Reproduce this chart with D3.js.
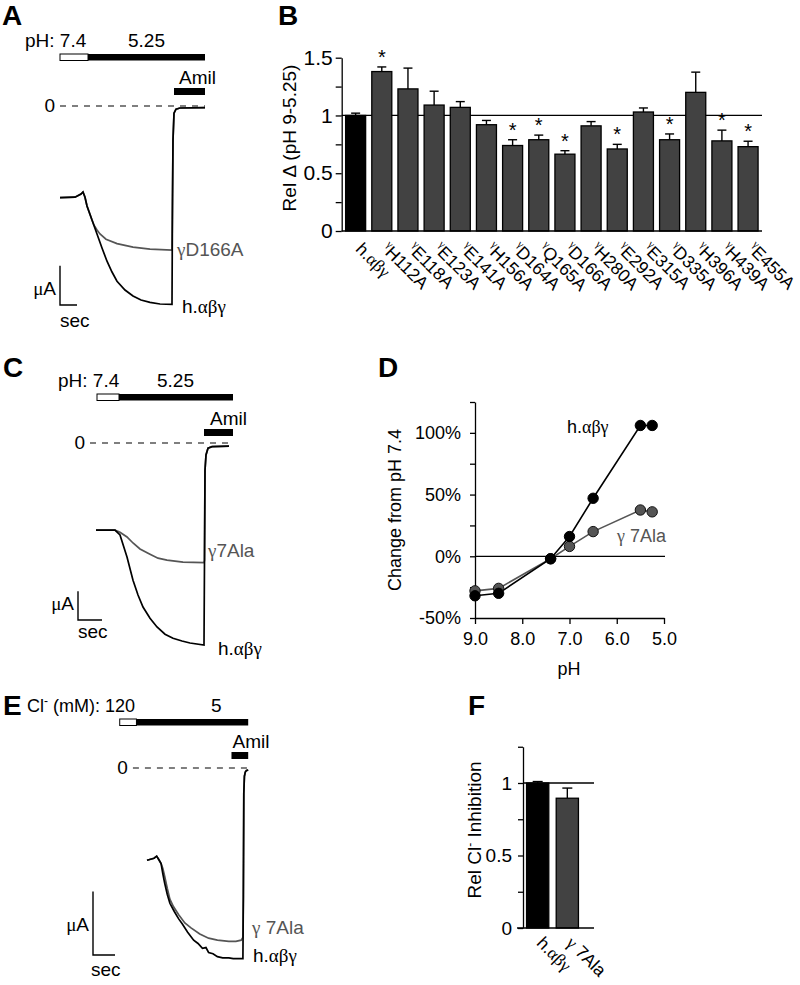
<!DOCTYPE html>
<html>
<head>
<meta charset="utf-8">
<script src="https://cdn.jsdelivr.net/npm/d3@7"></script>
<style>
  body { margin: 0; background: #fff; }
  svg text { font-family: "Liberation Sans", Arial, Helvetica, sans-serif; }
</style>
</head>
<body>
<svg id="fig" width="800" height="985"></svg>
<script>
// ---------------- data ----------------
// panel B: relative pH response (pH 9 -> 5.25) for each gamma mutant
const mutants = ["h.αβγ", "H112A", "E118A", "E123A", "E141A", "H156A", "D164A", "Q165A",
                 "D166A", "H280A", "E292A", "E315A", "D335A", "H396A", "H439A", "E455A"];
const relDelta = [1.00, 1.38, 1.23, 1.09, 1.07, 0.92, 0.74, 0.79, 0.665, 0.91, 0.71, 1.03, 0.79, 1.20, 0.78, 0.73];
const relDeltaSem = [0.02, 0.04, 0.18, 0.12, 0.05, 0.037, 0.05, 0.04, 0.03, 0.037, 0.04, 0.035, 0.05, 0.175, 0.093, 0.047];
const relDeltaSig = [false, true, false, false, false, false, true, true, true, false, true, false, true, false, true, true];

// panel D: change in current from pH 7.4 (%)
const pHs = [9.0, 8.5, 7.4, 7.0, 6.5, 5.5, 5.25];
const wtChange = [-32, -30, -2, 16, 47, 106, 106];
const ala7Change = [-28, -26, -2, 8, 20, 37.5, 36];

// panel F: relative Cl- inhibition
const fLabels = ["wt", "7Ala"];
const fValues = [1.0, 0.895];
const fSem = [0.01, 0.07];

// recordings: [time (s), current (uA)], zero = amiloride-insensitive level
const traceA_wt = [[0,-2.29],[15,-2.28],[21,-2.2],[23,-2.15],[25,-2.28],[27,-2.5],[32,-2.85],[37,-3.2],[42,-3.55],
  [47,-3.88],[52,-4.15],[57,-4.38],[65,-4.6],[73,-4.75],[81,-4.85],[90,-4.91],[100,-4.95],[112,-4.96],
  [112.5,-2.35],[113,-0.85],[114,-0.18],[116,-0.08],[120,-0.05],[145,-0.04]];
const traceA_mut = [[0,-2.29],[15,-2.28],[21,-2.2],[23,-2.15],[25,-2.28],[27,-2.5],[32,-2.85],[34,-2.98],[37,-3.1],
  [40,-3.2],[46,-3.33],[57,-3.44],[73,-3.53],[90,-3.58],[112,-3.6],
  [112.5,-2.35],[113,-0.85],[114,-0.18],[116,-0.08],[120,-0.05],[145,-0.04]];

const traceC_wt = [[0,-2.18],[19,-2.18],[24,-2.3],[31,-2.85],[37,-3.43],[42,-3.8],[47,-4.1],[54,-4.38],[61,-4.6],
  [69,-4.78],[77,-4.88],[86,-4.95],[94,-5.0],[108,-5.05],
  [108.5,-2.93],[109,-0.68],[110,-0.3],[112,-0.13],[116,-0.09],[133,-0.08]];
const traceC_mut = [[0,-2.18],[19,-2.18],[24,-2.23],[31,-2.35],[37,-2.5],[44,-2.65],[54,-2.78],[62,-2.88],[71,-2.93],
  [87,-2.98],[108,-2.99],
  [108.5,-2.93],[109,-0.68],[110,-0.3],[112,-0.13],[116,-0.09],[133,-0.08]];

const traceE_wt = [[0,-2.25],[8,-2.2],[11,-2.15],[13,-2.22],[16,-2.33],[18,-2.58],[20,-2.8],[23,-3.08],[26,-3.3],
  [31,-3.5],[36,-3.68],[40,-3.8],[46,-4.0],[53,-4.2],[58,-4.28],[63,-4.4],[67,-4.38],[70,-4.5],[75,-4.53],
  [80,-4.6],[86,-4.63],[93,-4.63],[98,-4.65],[109,-4.65],
  [109.5,-3.13],[110,-0.63],[110.7,-0.2],[111.7,-0.1],[113,-0.06],[115,-0.05]];
const traceE_mut = [[0,-2.25],[8,-2.2],[11,-2.15],[13,-2.22],[16,-2.33],[18,-2.45],[20,-2.63],[23,-2.93],[26,-3.2],
  [30,-3.38],[36,-3.58],[43,-3.78],[50,-3.9],[60,-4.05],[70,-4.15],[80,-4.2],[93,-4.23],[101,-4.23],
  [107,-4.2],[109,-4.13],
  [109.5,-3.13],[110,-0.63],[110.7,-0.2],[111.7,-0.1],[113,-0.06],[115,-0.05]];

// solution protocol, seconds: [control start, test start, end, amiloride start, zero-line start]
const protoA = [0, 28, 145, 114, 0];
const protoC = [1, 23, 137, 108, -6];
const protoE = [-31, -12, 115, 96, -16];

// scale bars: [seconds, uA]
const scaleBarA = [17, 0.98];
const scaleBarC = [24, 0.72];
const scaleBarE = [25, 1.55];

// ---------------- helpers ----------------
const svg = d3.select("#fig");
const GREY = "#555";
const BAR_GREY = "#424242";
const SERIF = '"Liberation Serif", "DejaVu Serif", serif';

// text made of parts; greek parts in the serif face like the original Symbol font
function rich(g, x, y, parts, opts = {}) {
  const t = g.append("text")
    .attr("x", x).attr("y", y)
    .attr("font-size", opts.size || 19)
    .attr("fill", opts.fill || "#000");
  if (opts.anchor) t.attr("text-anchor", opts.anchor);
  if (opts.transform) t.attr("transform", opts.transform);
  parts.forEach(p => {
    const s = t.append("tspan").text(p.t);
    if (p.greek) s.attr("font-family", SERIF);
    if (p.size) s.attr("font-size", p.size);
    if (p.dy) s.attr("dy", p.dy);
  });
  return t;
}

const hABG = [{ t: "h." }, { t: "αβγ", greek: true }];

function panelLetter(letter, x, y) {
  svg.append("text").attr("x", x).attr("y", y)
    .attr("font-size", 28).attr("font-weight", "bold")
    .text(letter);
}

// ---------------- recordings (A, C, E) ----------------
function recording(cfg) {
  const g = svg.append("g");
  const P = cfg.proto;
  const k = cfg.pxPerSec || 1, m = cfg.pxPerUA || 40;
  const x = d3.scaleLinear().domain([0, 100]).range([cfg.x0, cfg.x0 + 100 * k]);
  const y = d3.scaleLinear().domain([0, -5]).range([cfg.y0, cfg.y0 + 5 * m]);

  // solution bar
  g.append("rect")
    .attr("x", x(P[0])).attr("y", cfg.barY)
    .attr("width", x(P[1]) - x(P[0])).attr("height", 6.5)
    .attr("fill", "#fff").attr("stroke", "#000").attr("stroke-width", 1);
  g.append("rect")
    .attr("x", x(P[1])).attr("y", cfg.barY)
    .attr("width", x(P[2]) - x(P[1])).attr("height", 6.5)
    .attr("fill", "#000");
  rich(g, cfg.solLabel[0], cfg.barY - 7, cfg.solLabel[1], { size: cfg.solSize });
  rich(g, cfg.testLabel[0], cfg.barY - 7, [{ t: cfg.testLabel[1] }]);

  // amiloride bar
  g.append("rect")
    .attr("x", x(P[3])).attr("y", cfg.amilY)
    .attr("width", x(P[2]) - x(P[3])).attr("height", 7)
    .attr("fill", "#000");
  rich(g, x(P[3]) + cfg.amilDx, cfg.amilY - 4, [{ t: "Amil" }]);

  // zero current
  g.append("line")
    .attr("x1", x(P[4])).attr("x2", x(P[2]))
    .attr("y1", y(0)).attr("y2", y(0))
    .attr("stroke", "#000").attr("stroke-width", 1.2)
    .attr("stroke-dasharray", "6,6");
  rich(g, x(P[4]) - 5, y(0) + 6, [{ t: "0" }], { anchor: "end" });

  const line = d3.line().x(d => x(d[0])).y(d => y(d[1]));
  g.append("path").datum(cfg.mut).attr("d", line)
    .attr("fill", "none").attr("stroke", GREY).attr("stroke-width", 1.7);
  g.append("path").datum(cfg.wt).attr("d", line)
    .attr("fill", "none").attr("stroke", "#000").attr("stroke-width", 1.7);

  // scale bar
  const sb = cfg.scaleBar;
  const sbBottom = cfg.sbBottom;
  const x0 = cfg.sbX;
  g.append("path")
    .attr("d", `M${x0},${sbBottom - (y(-sb[1]) - y(0))}V${sbBottom}H${x0 + (x(sb[0]) - x(0))}`)
    .attr("fill", "none").attr("stroke", "#000").attr("stroke-width", 1.4);
  rich(g, x0 - 4, sbBottom - cfg.uaUp, [{ t: "μ", greek: true }, { t: "A" }], { anchor: "end" });
  rich(g, x0 + cfg.secDx, sbBottom + cfg.secDy, [{ t: "sec" }]);

  // trace labels
  rich(g, cfg.mutLabel[0], cfg.mutLabel[1], cfg.mutLabelParts, { fill: GREY });
  rich(g, cfg.wtLabel[0], cfg.wtLabel[1], hABG);
}

recording({
  x0: 60, y0: 106, proto: protoA, barY: 54, amilY: 88, amilDx: 5,
  solLabel: [25, [{ t: "pH: 7.4" }]], testLabel: [128, "5.25"],
  wt: traceA_wt, mut: traceA_mut, scaleBar: scaleBarA, sbX: 60, sbBottom: 305, uaUp: 10, secDx: 0, secDy: 22,
  mutLabel: [177, 256], mutLabelParts: [{ t: "γ", greek: true }, { t: "D166A" }],
  wtLabel: [182, 313]
});
recording({
  x0: 96, y0: 443, proto: protoC, barY: 394, amilY: 429, amilDx: 6,
  solLabel: [58, [{ t: "pH: 7.4" }]], testLabel: [157, "5.25"],
  wt: traceC_wt, mut: traceC_mut, scaleBar: scaleBarC, sbX: 78, sbBottom: 620, uaUp: 10, secDx: 0, secDy: 18,
  mutLabel: [208, 557], mutLabelParts: [{ t: "γ", greek: true }, { t: "7Ala" }],
  wtLabel: [218, 655]
});
recording({
  x0: 147, y0: 768, pxPerSec: 0.88, pxPerUA: 41, proto: protoE, barY: 719, amilY: 752, amilDx: 1,
  solLabel: [27, [{ t: "Cl" }, { t: "-", size: 12, dy: -7 }, { t: " (mM): 120", dy: 7 }]], solSize: 18, testLabel: [211, "5"],
  wt: traceE_wt, mut: traceE_mut, scaleBar: scaleBarE, sbX: 93, sbBottom: 955, uaUp: 24, secDx: -2, secDy: 21,
  mutLabel: [252, 934], mutLabelParts: [{ t: "γ", greek: true }, { t: " 7Ala" }],
  wtLabel: [253, 962]
});

panelLetter("A", 2, 25);
panelLetter("C", 3, 377);
panelLetter("E", 3, 715);

// ---------------- panel B ----------------
(function () {
  const g = svg.append("g");
  const x = d3.scaleBand().domain(mutants).range([341.7, 762]).paddingInner(0.235).paddingOuter(0.15);
  const y = d3.scaleLinear().domain([0, 1.5]).range([231, 57.7]);

  g.append("g").attr("transform", "translate(341.7,0)")
    .call(d3.axisLeft(y).tickValues([0, 0.25, 0.5, 0.75, 1, 1.25, 1.5]).tickSize(6).tickSizeOuter(0).tickPadding(3)
      .tickFormat(d => d * 2 === Math.round(d * 2) ? d3.format("~g")(d) : ""))
    .call(a => a.selectAll("text").attr("font-size", 21).attr("font-family", null))
    .call(a => a.selectAll("line,path").attr("stroke-width", 1.3));

  g.append("line").attr("x1", 341.7).attr("x2", 762).attr("y1", y(1)).attr("y2", y(1))
    .attr("stroke", "#000").attr("stroke-width", 1.3);

  const bars = g.selectAll(".bar").data(mutants).enter();
  bars.append("line")
    .attr("x1", d => x(d) + x.bandwidth() / 2).attr("x2", d => x(d) + x.bandwidth() / 2)
    .attr("y1", (d, i) => y(relDelta[i])).attr("y2", (d, i) => y(relDelta[i] + relDeltaSem[i]))
    .attr("stroke", "#000").attr("stroke-width", 1.4);
  bars.append("line")
    .attr("x1", d => x(d) + x.bandwidth() / 2 - 4.5).attr("x2", d => x(d) + x.bandwidth() / 2 + 4.5)
    .attr("y1", (d, i) => y(relDelta[i] + relDeltaSem[i])).attr("y2", (d, i) => y(relDelta[i] + relDeltaSem[i]))
    .attr("stroke", "#000").attr("stroke-width", 1.4);
  bars.append("rect")
    .attr("x", d => x(d)).attr("width", x.bandwidth())
    .attr("y", (d, i) => y(relDelta[i])).attr("height", (d, i) => y(0) - y(relDelta[i]))
    .attr("fill", (d, i) => i === 0 ? "#000" : BAR_GREY)
    .attr("stroke", "#000").attr("stroke-width", 1.3);
  bars.filter((d, i) => relDeltaSig[i]).append("text")
    .attr("x", d => x(d) + x.bandwidth() / 2)
    .attr("y", d => y(relDelta[mutants.indexOf(d)] + relDeltaSem[mutants.indexOf(d)]) - 3)
    .attr("text-anchor", "middle").attr("font-size", 20).text("*");

  g.append("line").attr("x1", 341.7).attr("x2", 762).attr("y1", y(0)).attr("y2", y(0))
    .attr("stroke", "#000").attr("stroke-width", 1.4);

  mutants.forEach((m, i) => {
    const cx = x(m) + x.bandwidth() / 2 - 1;
    const parts = i === 0 ? hABG
      : [{ t: "γ", greek: true, size: 11, dy: -7 }, { t: m, size: 17.5, dy: 7 }];
    rich(g, cx, 250, parts, { size: 17.5, transform: `rotate(45,${cx},250)` });
  });

  rich(g, 0, 0, [{ t: "Rel " }, { t: "Δ" }, { t: " (pH 9-5.25)" }],
    { size: 19, anchor: "middle", transform: "translate(296,138) rotate(-90)" });
})();
panelLetter("B", 278, 25);

// ---------------- panel D ----------------
(function () {
  const g = svg.append("g");
  const x = d3.scaleLinear().domain([9, 5]).range([475, 664]);
  const y = d3.scaleLinear().domain([-50, 125]).range([618, 402]);

  g.append("g").attr("transform", "translate(0,618)")
    .call(d3.axisBottom(x).tickValues([9, 8, 7, 6, 5]).tickFormat(d3.format(".1f")).tickSize(6).tickPadding(8).tickSizeOuter(0))
    .call(a => a.selectAll("text").attr("font-size", 18).attr("font-family", null))
    .call(a => a.selectAll("line,path").attr("stroke-width", 1.3));
  g.append("g").attr("transform", "translate(475,0)")
    .call(d3.axisLeft(y).tickValues([-50, -25, 0, 25, 50, 75, 100, 125]).tickSize(5).tickPadding(9).tickSizeOuter(0)
      .tickFormat(d => d % 50 === 0 && d <= 100 ? d + "%" : ""))
    .call(a => a.selectAll("text").attr("font-size", 18).attr("font-family", null))
    .call(a => a.selectAll("line,path").attr("stroke-width", 1.3));

  g.append("line").attr("x1", 475).attr("x2", 665).attr("y1", y(0)).attr("y2", y(0))
    .attr("stroke", "#000").attr("stroke-width", 1.3);

  const line = d3.line().x((d, i) => x(pHs[i])).y(d => y(d));
  g.append("path").datum(ala7Change).attr("d", line).attr("fill", "none").attr("stroke", GREY).attr("stroke-width", 1.6);
  g.append("path").datum(wtChange).attr("d", line).attr("fill", "none").attr("stroke", "#000").attr("stroke-width", 1.6);
  g.selectAll(".p7").data(ala7Change).enter().append("circle")
    .attr("cx", (d, i) => x(pHs[i])).attr("cy", d => y(d)).attr("r", 5.2)
    .attr("fill", GREY).attr("stroke", "#111").attr("stroke-width", 1);
  g.selectAll(".pw").data(wtChange).enter().append("circle")
    .attr("cx", (d, i) => x(pHs[i])).attr("cy", d => y(d)).attr("r", 5.2)
    .attr("fill", "#000").attr("stroke", "#000").attr("stroke-width", 1);

  rich(g, 567, 433, hABG, { size: 18 });
  rich(g, 617, 542, [{ t: "γ", greek: true }, { t: " 7Ala" }], { size: 18, fill: GREY });
  rich(g, 569, 675, [{ t: "pH" }], { size: 18, anchor: "middle" });
  rich(g, 0, 0, [{ t: "Change from pH 7.4" }],
    { size: 18, anchor: "middle", transform: "translate(401,510) rotate(-90)" });
})();
panelLetter("D", 378, 377);

// ---------------- panel F ----------------
(function () {
  const g = svg.append("g");
  const x0 = 523;
  const x = d3.scaleBand().domain(fLabels).range([x0, 582]).paddingInner(0.25).paddingOuter(0.12);
  const y = d3.scaleLinear().domain([0, 1.25]).range([928, 746.75]);

  g.append("g").attr("transform", `translate(${x0},0)`)
    .call(d3.axisLeft(y).tickValues([0, 0.25, 0.5, 0.75, 1, 1.25]).tickSize(5).tickPadding(6).tickSizeOuter(0)
      .tickFormat(d => d * 2 === Math.round(d * 2) && d <= 1 ? d3.format("~g")(d) : ""))
    .call(a => a.selectAll("text").attr("font-size", 19).attr("font-family", null))
    .call(a => a.selectAll("line,path").attr("stroke-width", 1.3));

  g.append("line").attr("x1", x0).attr("x2", 594).attr("y1", y(1)).attr("y2", y(1))
    .attr("stroke", "#000").attr("stroke-width", 1.3);

  fLabels.forEach((l, i) => {
    const cx = x(l) + x.bandwidth() / 2;
    g.append("line").attr("x1", cx).attr("x2", cx)
      .attr("y1", y(fValues[i])).attr("y2", y(fValues[i] + fSem[i]))
      .attr("stroke", "#000").attr("stroke-width", 1.4);
    g.append("line").attr("x1", cx - 5).attr("x2", cx + 5)
      .attr("y1", y(fValues[i] + fSem[i])).attr("y2", y(fValues[i] + fSem[i]))
      .attr("stroke", "#000").attr("stroke-width", 1.4);
    g.append("rect").attr("x", x(l)).attr("width", x.bandwidth())
      .attr("y", y(fValues[i])).attr("height", y(0) - y(fValues[i]))
      .attr("fill", i === 0 ? "#000" : BAR_GREY).attr("stroke", "#000").attr("stroke-width", 1.3);
    const lx = cx - 2;
    const parts = i === 0 ? hABG : [{ t: "γ", greek: true }, { t: " 7Ala" }];
    rich(g, lx, 944, parts, { size: 17.5, transform: `rotate(45,${lx},944)` });
  });

  g.append("line").attr("x1", x0 - 6).attr("x2", 594).attr("y1", y(0)).attr("y2", y(0))
    .attr("stroke", "#000").attr("stroke-width", 1.4);

  rich(g, 0, 0, [{ t: "Rel Cl" }, { t: "-", size: 12, dy: -7 }, { t: " Inhibition", dy: 7 }],
    { size: 19, anchor: "middle", transform: "translate(481,830) rotate(-90)" });
})();
panelLetter("F", 468, 715);
</script>
</body>
</html>
